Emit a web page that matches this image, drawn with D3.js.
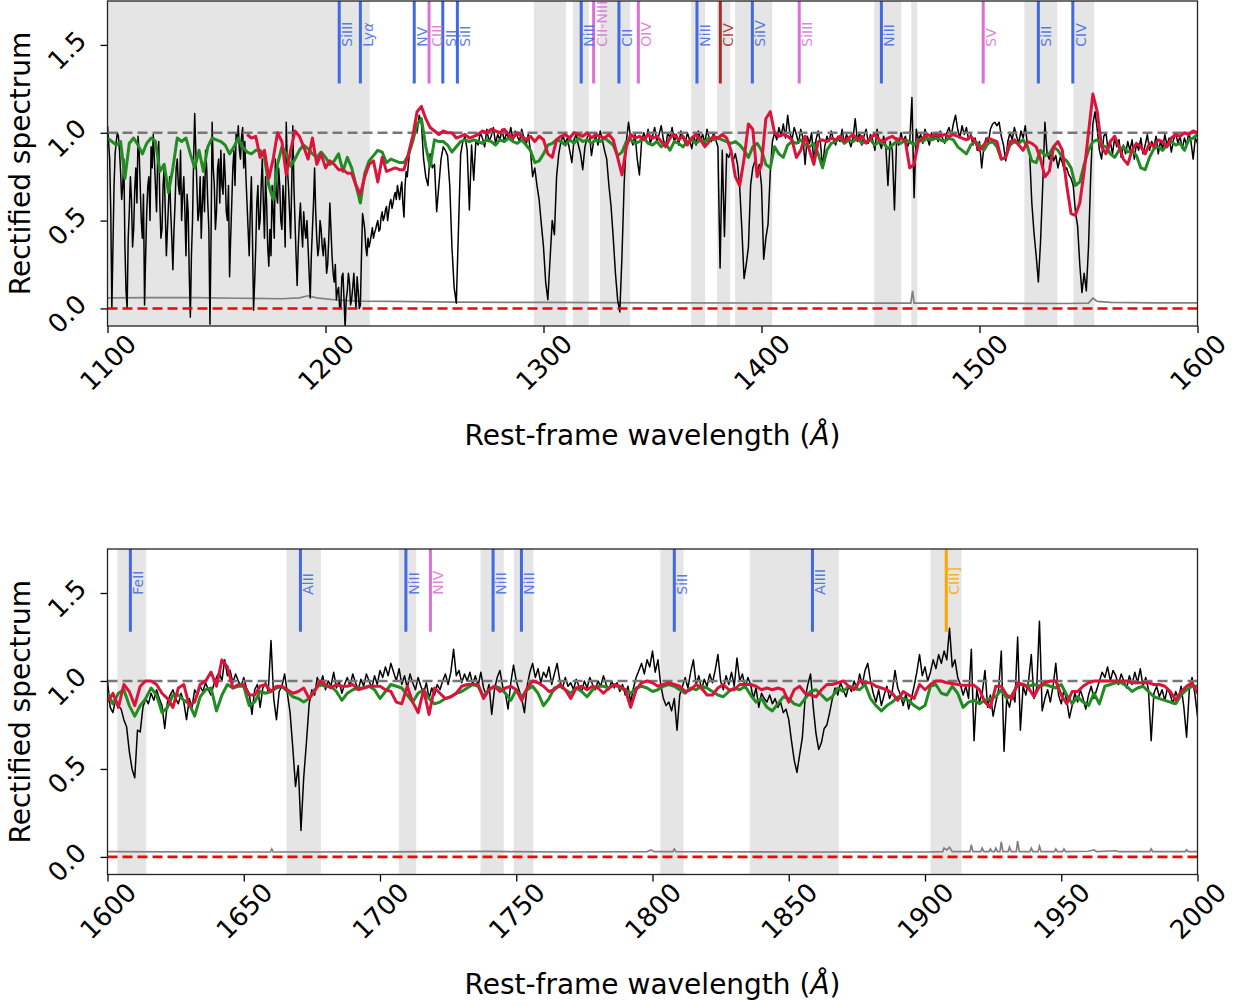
<!DOCTYPE html>
<html>
<head>
<meta charset="utf-8">
<title>Rectified spectrum</title>
<script src="https://d3js.org/d3.v7.min.js"></script>
<style>
  body { margin: 0; background: #fff; }
  svg { display: block; font-family: "DejaVu Sans", sans-serif; }
</style>
</head>
<body>
<svg id="chart" width="1242" height="1006"></svg>
<script>
// ---- data ----
// observed spectrum, 1 A steps
const fluxTopStart = 1100;
const fluxTop = [
  1.04,0.85,0.0,0.7,0.95,0.98,0.78,0.70,0.35,0.0,        // 1100
  0.55,0.62,0.45,0.80,0.98,0.7,0.4,0.02,0.55,0.75,       // 1110
  0.92,0.99,0.7,0.85,0.6,0.45,0.8,0.3,0.6,0.55,          // 1120
  0.22,0.6,0.85,0.65,0.5,0.75,0.3,0.55,-0.05,0.5,        // 1130
  1.11,0.7,0.55,0.4,0.75,0.9,0.6,-0.09,1.06,0.7,         // 1140
  0.55,0.85,0.9,0.65,0.75,0.5,0.18,0.6,0.9,1.0,          // 1150
  1.04,0.85,1.03,0.95,0.6,0.3,0.75,-0.01,0.35,0.7,       // 1160
  0.5,0.85,0.4,0.6,0.24,0.3,0.55,0.85,0.6,0.7,           // 1170
  0.45,0.6,1.06,0.7,0.4,1.04,0.5,0.13,0.5,0.45,          // 1180
  0.55,0.4,0.35,0.06,0.45,0.8,0.4,0.35,0.45,0.3,         // 1190
  0.35,0.25,0.6,0.3,0.15,0.05,0.12,0.0,0.2,-0.11,        // 1200
  0.1,0.15,0.05,0.2,0.0,0.1,0.02,0.54,0.45,0.3,          // 1210
  0.35,0.42,0.4,0.45,0.5,0.45,0.55,0.52,0.58,0.55,       // 1220
  0.62,0.6,0.66,0.7,0.62,0.72,0.52,0.78,0.82,0.92,       // 1230
  0.98,1.05,1.0,1.1,1.05,0.85,0.75,0.7,0.88,0.8,         // 1240
  0.82,0.55,0.7,0.85,0.92,0.9,0.87,0.7,0.35,0.12,        // 1250
  0.03,0.45,0.88,0.95,0.98,0.9,0.56,0.93,0.73,0.96,      // 1260
  0.93,1.0,0.97,0.92,1.02,0.95,0.98,1.03,0.94,0.99,      // 1270
  0.96,1.02,0.95,1.0,0.97,1.03,0.96,1.01,0.98,0.95,      // 1280
  1.02,0.97,0.93,0.99,0.9,0.75,0.8,0.7,0.62,0.48,        // 1290
  0.35,0.15,0.05,0.28,0.5,0.42,0.75,0.88,0.95,0.98,      // 1300
  0.94,0.97,0.9,0.83,0.96,0.99,0.93,0.88,0.79,0.92,      // 1310
  0.97,1.0,0.87,0.95,0.98,0.93,1.01,0.96,0.9,0.85,       // 1320
  0.7,0.58,0.4,0.2,0.05,-0.02,0.3,0.71,0.95,1.06,        // 1330
  0.97,0.93,0.99,0.85,0.76,0.95,1.0,0.96,1.02,0.94,      // 1340
  0.98,1.03,0.95,0.99,1.04,0.96,0.92,1.0,0.97,1.03,      // 1350
  0.95,0.99,0.93,1.01,0.97,0.94,1.0,0.96,0.91,0.98,      // 1360
  0.93,1.01,0.96,0.99,0.94,1.02,0.97,0.95,1.0,0.96,      // 1370
  0.92,0.23,0.9,0.41,0.88,0.86,0.9,0.84,0.88,0.82,       // 1380
  0.69,0.45,0.17,0.25,0.35,0.7,0.8,0.84,0.78,0.82,       // 1390
  0.7,0.28,0.4,0.48,0.77,0.95,1.0,0.96,1.03,0.98,        // 1400
  1.05,0.97,1.1,1.0,0.96,1.03,0.99,0.94,1.02,0.97,       // 1410
  0.82,0.98,0.94,1.0,0.83,0.96,1.01,0.95,0.8,0.92,       // 1420
  0.98,0.95,1.01,0.96,0.93,0.98,0.95,1.02,0.94,0.99,     // 1430
  0.96,0.92,0.97,1.08,0.95,1.0,0.93,0.98,1.02,0.94,      // 1440
  0.99,0.96,0.9,1.02,0.95,0.91,0.98,0.93,0.7,0.95,       // 1450
  0.9,0.56,0.97,0.93,1.0,0.95,0.98,0.92,0.95,1.2,        // 1460
  0.63,1.02,0.96,0.99,0.94,1.02,0.97,0.93,1.0,0.96,      // 1470
  0.99,0.95,1.01,0.97,0.94,1.0,1.03,0.98,1.05,1.1,       // 1480
  1.02,0.97,1.04,0.99,1.03,0.96,0.99,0.93,0.97,0.9,      // 1490
  0.95,0.8,0.92,0.97,0.94,1.02,1.05,1.06,1.04,1.06,      // 1500
  0.98,0.93,0.84,0.95,1.0,0.96,1.03,0.98,0.94,1.01,      // 1510
  0.97,1.04,0.93,0.88,0.6,0.43,0.3,0.15,0.38,0.7,        // 1520
  1.06,0.88,0.85,0.9,0.84,0.87,0.8,0.86,0.83,0.78,       // 1530
  0.8,0.76,0.74,0.7,0.55,0.47,0.25,0.09,0.2,0.1,         // 1540
  0.35,0.75,1.05,1.12,1.02,0.9,0.85,0.98,1.0,0.9,        // 1550
  0.95,0.88,0.97,0.92,0.96,0.86,0.93,0.88,0.95,0.9,      // 1560
  0.96,0.85,0.94,0.9,0.97,0.88,0.93,0.99,0.9,0.95,       // 1570
  0.92,0.98,0.88,0.95,0.91,0.99,0.93,0.97,0.89,0.96,     // 1580
  1.0,0.94,0.98,0.91,0.97,0.93,1.0,0.95,0.85,0.97,       // 1590
  0.94                                                    // 1600
];
// extra half-step samples in the dense forest region (1100.5 ... 1239.5)
const fluxForestStart = 1100.5;
const fluxForest = [
  0.95,0.55,0.35,0.88,1.0,0.9,0.62,0.85,0.1,0.4,         // 1100.5
  0.75,0.35,0.68,0.6,0.9,0.5,0.65,0.3,0.7,0.5,           // 1110.5
  0.8,0.85,0.55,0.95,0.4,0.7,0.55,0.45,0.75,0.4,         // 1120.5
  0.45,0.8,0.7,0.9,0.65,0.55,0.65,0.2,0.3,0.85,          // 1130.5
  0.9,0.5,0.75,0.6,0.55,0.8,0.45,0.4,0.8,0.45,           // 1140.5
  0.8,0.6,0.7,0.88,0.55,0.7,0.4,0.8,0.7,0.95,            // 1150.5
  0.9,0.98,0.8,0.75,0.45,0.55,0.4,0.15,0.6,0.45,         // 1160.5
  0.7,0.6,0.75,0.35,0.45,0.7,0.4,0.65,0.8,0.5,           // 1170.5
  0.7,0.35,0.8,0.55,0.7,0.7,0.3,0.35,0.6,0.35,           // 1180.5
  0.45,0.5,0.2,0.3,0.6,0.55,0.3,0.5,0.35,0.4,            // 1190.5
  0.2,0.4,0.45,0.2,0.25,0.1,0.0,0.18,0.05,0.05,          // 1200.5
  0.2,0.02,0.12,0.08,0.18,0.0,0.3,0.5,0.35,0.4,          // 1210.5
  0.38,0.46,0.43,0.48,0.44,0.52,0.5,0.56,0.5,0.6,        // 1220.5
  0.57,0.64,0.62,0.66,0.68,0.6,0.7,0.75,0.88,0.95        // 1230.5
];
const fluxBotStart = 1600;
const fluxBot = [
  1.0,0.85,0.82,0.9,0.86,0.84,0.78,0.74,0.6,0.5,         // 1600
  0.45,0.72,0.71,0.85,0.9,0.87,0.93,0.89,0.95,0.9,       // 1610
  0.86,0.73,0.88,0.92,0.95,0.9,0.87,0.93,0.88,0.78,      // 1620
  0.9,0.85,0.95,0.92,0.97,0.94,0.99,0.95,0.92,0.98,      // 1630
  1.02,1.05,1.0,1.12,1.03,1.06,0.99,1.04,1.0,0.97,       // 1640
  1.02,0.96,0.93,0.81,0.95,0.98,0.85,0.96,0.99,0.94,     // 1650
  1.23,0.9,0.78,0.94,0.97,1.04,0.93,0.82,0.62,0.4,       // 1660
  0.52,0.15,0.45,0.65,0.87,0.95,0.92,1.02,0.97,1.03,     // 1670
  0.95,1.0,0.97,1.05,0.96,1.0,0.93,0.98,1.02,0.97,       // 1680
  1.04,0.99,0.95,1.01,0.97,1.04,1.0,0.96,1.03,0.98,      // 1690
  1.06,1.02,1.08,1.03,1.1,1.05,1.0,1.07,0.98,1.03,       // 1700
  0.96,1.04,0.99,0.95,1.02,0.97,0.93,0.99,0.9,0.96,      // 1710
  0.92,0.98,0.95,1.0,1.04,0.98,1.05,1.18,1.03,1.06,      // 1720
  0.99,1.04,1.0,1.05,0.98,1.03,0.97,1.05,0.96,0.92,      // 1730
  0.98,0.81,0.95,1.02,1.06,0.97,0.93,0.84,0.99,1.09,     // 1740
  1.0,0.95,0.9,0.82,0.97,1.05,1.1,1.02,1.07,0.99,        // 1750
  1.05,1.02,1.08,0.98,1.04,1.1,1.0,0.96,1.02,0.97,       // 1760
  0.99,0.95,1.01,0.97,0.94,1.0,0.96,1.02,0.98,0.95,      // 1770
  1.0,0.97,1.03,0.98,0.95,1.0,0.96,0.99,0.94,0.98,       // 1780
  0.92,0.97,0.88,0.96,1.02,1.06,1.1,1.04,1.12,1.08,      // 1790
  1.17,1.05,1.12,0.98,0.9,0.86,0.88,0.83,0.9,0.72,       // 1800
  0.92,0.97,1.02,0.96,1.05,1.12,0.98,1.03,0.95,1.01,     // 1810
  0.97,1.04,0.99,1.06,1.15,1.0,0.95,1.03,0.98,1.05,      // 1820
  0.97,1.13,1.0,1.04,0.96,1.02,0.98,0.9,0.96,0.85,       // 1830
  0.93,0.9,0.88,0.92,0.87,0.9,0.85,0.88,0.82,0.84,       // 1840
  0.78,0.66,0.55,0.48,0.58,0.68,0.9,0.98,1.04,0.85,      // 1850
  0.7,0.61,0.65,0.73,0.75,0.82,0.9,0.96,0.92,0.99,       // 1860
  0.95,0.91,0.97,0.94,1.0,0.95,1.04,0.98,1.06,1.1,       // 1870
  1.0,0.93,0.88,0.95,0.86,0.92,0.97,0.9,0.94,1.06,       // 1880
  0.96,0.92,0.86,0.93,0.84,0.9,0.97,1.05,1.15,1.03,      // 1890
  1.08,1.0,1.05,1.12,1.07,1.15,1.1,1.17,1.12,1.3,        // 1900
  1.08,1.12,1.02,0.98,0.92,0.97,0.9,1.18,0.66,0.95,      // 1910
  0.88,0.93,1.06,0.85,0.92,0.8,0.88,0.95,1.17,0.6,       // 1920
  0.9,0.85,0.93,0.88,1.25,0.72,0.97,0.92,1.0,1.15,       // 1930
  0.9,0.96,1.34,0.83,0.9,0.95,0.88,0.97,1.1,0.92,        // 1940
  0.87,0.95,0.89,0.79,0.86,0.93,0.88,0.95,0.9,0.84,      // 1950
  0.92,0.97,0.9,0.95,1.0,1.05,1.02,1.08,1.0,1.06,        // 1960
  1.03,0.98,1.04,1.0,0.96,1.03,0.98,1.05,0.99,1.07,      // 1970
  0.97,1.02,0.95,0.66,0.93,0.97,0.91,0.95,0.89,0.96,     // 1980
  0.92,0.87,0.94,0.9,0.97,0.85,0.68,0.95,1.02,0.93,      // 1990
  0.8                                                     // 2000
];

// model 1 (green) and model 2 (red), 2 A steps
const greenTopStart = 1100;
const greenTop = [
  0.97,0.95,0.93,0.95,0.74,0.94,0.97,0.93,0.88,0.94,     // 1100
  0.97,0.95,0.78,0.82,0.66,0.8,0.97,0.95,0.97,0.88,      // 1120
  0.8,0.9,0.78,0.92,0.97,0.96,0.95,0.93,0.88,0.92,       // 1140
  0.97,0.92,0.89,0.88,0.9,0.9,0.86,0.7,0.62,0.82,        // 1160
  0.92,0.88,0.81,0.85,0.9,0.93,0.91,0.88,0.86,0.89,      // 1180
  0.86,0.82,0.84,0.88,0.78,0.86,0.8,0.7,0.6,0.77,        // 1200
  0.84,0.87,0.9,0.89,0.83,0.85,0.84,0.83,0.83,0.87,      // 1220
  0.95,1.05,1.08,0.92,0.81,0.96,0.95,0.95,0.93,0.89,     // 1240
  0.92,0.95,0.96,0.95,0.96,0.95,0.94,0.96,0.95,0.93,     // 1260
  0.96,0.95,0.97,0.95,0.94,0.96,0.93,0.9,0.83,0.84,      // 1280
  0.88,0.93,0.94,0.96,0.95,0.93,0.96,0.94,0.97,0.95,     // 1300
  0.96,0.94,0.96,0.95,0.97,0.95,0.93,0.87,0.89,0.95,     // 1320
  0.96,0.94,0.95,0.97,0.94,0.93,0.95,0.92,0.94,0.9,      // 1340
  0.95,0.94,0.92,0.95,0.96,0.94,0.96,0.95,0.97,0.96,     // 1360
  0.97,0.96,0.95,0.94,0.95,0.93,0.9,0.86,0.92,0.94,      // 1380
  0.9,0.82,0.8,0.92,0.88,0.86,0.93,0.95,0.94,0.96,       // 1400
  0.93,0.92,0.94,0.88,0.8,0.9,0.94,0.95,0.97,0.94,       // 1420
  0.96,0.95,0.97,0.94,0.95,0.96,0.93,0.95,0.94,0.91,     // 1440
  0.93,0.95,0.94,0.96,0.95,0.93,0.96,0.95,0.97,0.96,     // 1460
  0.97,0.96,0.95,0.97,0.96,0.92,0.9,0.88,0.93,0.95,      // 1480
  0.93,0.9,0.94,0.95,0.92,0.85,0.86,0.93,0.95,0.94,      // 1500
  0.96,0.92,0.84,0.83,0.9,0.87,0.88,0.92,0.9,0.86,       // 1520
  0.84,0.8,0.7,0.72,0.82,0.9,0.95,0.96,0.93,0.92,        // 1540
  0.88,0.86,0.9,0.92,0.89,0.9,0.87,0.8,0.79,0.86,        // 1560
  0.91,0.92,0.9,0.93,0.95,0.93,0.94,0.9,0.96,0.97,       // 1580
  0.99                                                    // 1600
];
const redTopStart = 1164;
const redTop = [
  0.99,0.97,0.98,0.86,0.9,0.74,0.85,1.0,0.95,0.76,       // 1164
  0.9,1.01,0.98,0.92,0.85,0.97,0.82,0.88,0.8,0.84,       // 1184
  0.82,0.79,0.79,0.77,0.77,0.7,0.65,0.75,0.82,0.84,      // 1204
  0.72,0.86,0.78,0.79,0.8,0.79,0.79,0.88,0.98,1.12,      // 1224
  1.15,1.08,1.03,1.01,0.99,1.01,1.0,1.0,0.97,0.98,       // 1244
  0.99,0.97,0.98,0.99,1.01,1.0,1.02,1.01,1.0,1.02,       // 1264
  0.99,0.97,1.0,0.98,0.96,0.98,0.95,0.98,0.96,0.88,      // 1284
  0.86,0.96,0.98,0.99,0.97,1.0,0.99,0.98,1.0,0.97,       // 1304
  0.99,0.98,0.97,0.99,0.96,0.86,0.76,0.92,0.99,0.97,     // 1324
  0.98,0.96,0.99,0.97,0.98,0.95,0.92,0.97,0.99,0.96,     // 1344
  0.98,0.93,0.97,0.99,0.96,0.92,0.95,0.98,0.97,0.99,     // 1364
  0.97,0.9,0.75,0.7,0.85,1.05,1.02,0.75,0.82,1.08,       // 1384
  1.12,1.0,0.98,0.99,0.98,0.96,0.86,0.9,0.98,0.9,        // 1404
  0.82,0.95,0.96,0.95,0.97,0.96,0.98,0.95,0.97,0.99,     // 1424
  0.96,0.98,0.94,0.97,0.99,0.96,0.95,0.97,0.98,0.96,     // 1444
  0.97,0.95,0.8,0.82,0.95,0.97,0.99,0.98,0.99,0.98,      // 1464
  0.99,0.98,0.99,0.98,0.97,0.96,0.98,0.95,0.9,0.93,      // 1484
  0.97,0.96,0.95,0.85,0.86,0.95,0.96,0.93,0.9,0.95,      // 1504
  0.94,0.92,0.85,0.75,0.78,0.92,0.95,0.9,0.7,0.54,       // 1524
  0.53,0.6,0.78,1.0,1.22,1.12,0.92,0.88,0.95,0.98,       // 1544
  0.92,0.85,0.82,0.9,0.94,0.92,0.88,0.94,0.92,0.96,      // 1564
  0.95,0.92,0.97,0.99,0.98,1.0,0.99,1.01,1.0             // 1584
];
const greenBotStart = 1600;
const greenBot = [
  0.93,0.87,0.93,0.95,0.86,0.8,0.86,0.9,0.96,0.92,       // 1600
  0.82,0.85,0.92,0.92,0.89,0.87,0.8,0.91,0.95,0.96,      // 1620
  0.83,0.92,0.98,0.96,0.97,0.97,0.86,0.88,0.94,0.93,     // 1640
  0.94,0.96,0.97,0.94,0.91,0.9,0.88,0.9,0.95,0.98,       // 1660
  0.97,0.97,0.94,0.89,0.93,0.95,0.96,0.96,0.97,0.95,     // 1680
  0.9,0.94,0.98,0.97,0.96,0.92,0.88,0.93,0.95,0.9,       // 1700
  0.87,0.88,0.9,0.91,0.93,0.94,0.96,0.98,0.97,0.91,      // 1720
  0.95,0.97,0.96,0.93,0.89,0.95,0.91,0.95,0.97,0.93,     // 1740
  0.86,0.9,0.96,0.97,0.95,0.93,0.96,0.94,0.91,0.95,      // 1760
  0.97,0.97,0.96,0.98,0.96,0.95,0.93,0.96,0.97,0.96,     // 1780
  0.94,0.95,0.97,0.98,0.97,0.95,0.93,0.96,0.95,0.97,     // 1800
  0.96,0.94,0.92,0.91,0.94,0.96,0.95,0.97,0.92,0.88,     // 1820
  0.9,0.85,0.83,0.87,0.91,0.9,0.87,0.86,0.9,0.94,        // 1840
  0.95,0.92,0.89,0.91,0.96,0.94,0.97,0.96,0.95,0.98,     // 1860
  0.9,0.86,0.83,0.86,0.88,0.91,0.9,0.89,0.86,0.84,       // 1880
  0.86,0.97,0.98,0.93,0.92,0.97,0.93,0.85,0.88,0.89,     // 1900
  0.87,0.89,0.9,0.91,0.95,0.9,0.92,0.98,0.98,0.97,       // 1920
  0.98,0.97,0.98,0.97,0.96,0.98,0.92,0.87,0.91,0.88,     // 1940
  0.86,0.93,0.87,0.97,0.98,0.99,0.99,0.97,0.94,0.96,     // 1960
  0.97,0.94,0.91,0.9,0.89,0.88,0.87,0.92,0.95,0.97,      // 1980
  0.97                                                    // 2000
];
const redBotStart = 1600;
const redBot = [
  0.88,0.93,0.85,0.98,0.94,0.86,0.97,1.0,1.0,0.98,       // 1600
  0.93,0.9,0.85,0.96,0.98,0.86,0.88,0.98,1.0,1.05,       // 1620
  0.97,1.12,1.08,0.96,0.98,0.98,0.92,0.92,0.97,0.98,     // 1640
  0.94,0.97,0.97,0.95,0.93,0.94,0.96,0.9,0.94,1.0,       // 1660
  0.98,0.96,0.98,0.97,0.97,0.98,0.95,0.96,0.97,0.97,     // 1680
  0.97,0.95,0.94,0.88,0.87,0.97,0.88,0.82,0.95,0.81,     // 1700
  0.96,0.93,0.9,0.91,0.93,0.97,0.98,0.98,0.98,0.9,       // 1720
  0.95,0.97,0.94,0.96,0.97,0.95,0.89,0.96,1.0,0.99,      // 1740
  0.97,0.94,0.95,0.98,0.95,0.9,0.96,0.97,0.95,0.97,      // 1760
  0.96,0.93,0.96,0.98,0.97,0.95,0.85,0.95,0.99,1.0,      // 1780
  0.99,0.97,0.98,0.99,0.98,0.97,0.94,0.95,0.98,0.96,     // 1800
  0.92,0.92,0.96,0.98,0.95,0.95,0.98,0.98,0.98,0.97,     // 1820
  0.95,0.96,0.95,0.96,0.95,0.88,0.95,0.97,0.93,0.92,     // 1840
  0.91,0.95,0.98,0.98,0.99,1.0,0.97,0.95,1.0,0.99,       // 1860
  0.99,0.97,0.96,0.95,0.93,0.89,0.94,0.92,0.9,0.98,      // 1880
  0.95,0.98,1.0,1.0,0.99,0.985,0.98,0.975,0.975,0.975,   // 1900
  0.95,0.88,0.85,0.97,0.97,0.92,0.9,0.99,0.98,0.96,      // 1920
  0.91,0.97,0.99,1.0,1.0,0.92,0.87,0.94,0.94,0.97,       // 1940
  0.99,1.0,1.0,1.0,1.0,1.0,1.0,1.0,0.99,0.99,            // 1960
  0.99,0.99,0.98,0.98,0.97,0.94,0.89,0.94,0.97,0.99,     // 1980
  0.93                                                    // 2000
];

// error spectrum [wavelength, value]
const errTop = [
  [1100,0.06],[1120,0.062],[1140,0.062],[1160,0.058],[1180,0.055],[1188,0.06],[1192,0.072],
  [1196,0.06],[1205,0.048],[1215,0.042],[1230,0.04],[1260,0.036],[1300,0.034],[1350,0.032],
  [1400,0.031],[1450,0.03],[1468.5,0.03],[1469.3,0.1],[1470,0.03],[1500,0.03],[1540,0.028],
  [1550,0.03],[1552,0.058],[1554,0.04],[1560,0.035],[1580,0.032],[1600,0.032]
];
const errBot = [
  [1600,0.03],[1640,0.028],[1659.8,0.028],[1660.3,0.045],[1660.8,0.028],[1700,0.029],
  [1740,0.031],[1770,0.028],[1798,0.03],[1799.5,0.04],[1800.5,0.03],[1807.5,0.03],[1808,0.045],
  [1808.6,0.03],[1850,0.028],[1900,0.028],[1906.5,0.03],[1907,0.05],[1908,0.04],[1909,0.055],
  [1910,0.03],[1916.5,0.03],[1917,0.07],[1917.6,0.03],[1920.5,0.03],[1921,0.05],[1921.6,0.03],
  [1923.5,0.03],[1924,0.045],[1924.6,0.03],[1925.5,0.03],[1926,0.05],[1926.6,0.03],[1927.5,0.03],
  [1928,0.085],[1928.6,0.03],[1930.5,0.03],[1931,0.055],[1931.6,0.03],[1933.5,0.03],[1934,0.09],
  [1934.6,0.03],[1938.5,0.03],[1939,0.05],[1939.6,0.03],[1941.5,0.03],[1942,0.06],[1942.6,0.03],
  [1947.5,0.03],[1948,0.045],[1948.6,0.03],[1950.5,0.03],[1951,0.045],[1951.6,0.03],
  [1960,0.032],[1962,0.04],[1963,0.03],[1970,0.035],[1971,0.03],[1982.5,0.03],[1983,0.045],
  [1983.6,0.03],[1995.5,0.03],[1996,0.04],[1996.6,0.03],[2000,0.03]
];

// masked wavelength ranges (grey bands)
const masksTop = [
  [1100,1220.3],[1295.6,1310.3],[1313.5,1320.8],[1325.9,1339.7],[1367.7,1374.1],
  [1379.6,1385.6],[1387.9,1404.9],[1451.7,1464.1],[1468.7,1471.4],[1520.6,1535.7],[1543.1,1552.7]
];
const masksBot = [
  [1603.6,1614.2],[1665.7,1678.3],[1706.9,1713.3],[1736.9,1745.4],[1749.1,1756.3],
  [1802.9,1811.4],[1835.7,1868.4],[1902,1913.4]
];

// line identifications
const linesTop = [
  {wl:1206.3, name:"SiIII", c:"royalblue"}, {wl:1216.0, name:"Lyα", c:"royalblue"},
  {wl:1240.7, name:"NV", c:"royalblue"}, {wl:1247.5, name:"CIII", c:"orchid"},
  {wl:1253.8, name:"SII", c:"royalblue"}, {wl:1260.5, name:"SiII", c:"royalblue"},
  {wl:1317.3, name:"NiII", c:"royalblue"}, {wl:1323.0, name:"CII-NIII", c:"orchid"},
  {wl:1334.6, name:"CII", c:"royalblue"}, {wl:1343.5, name:"OIV", c:"orchid"},
  {wl:1370.4, name:"NiII", c:"royalblue"}, {wl:1381.1, name:"CIV", c:"brown"},
  {wl:1395.8, name:"SiIV", c:"royalblue"}, {wl:1417.3, name:"SiIII", c:"orchid"},
  {wl:1455.0, name:"NiII", c:"royalblue"}, {wl:1501.7, name:"SV", c:"orchid"},
  {wl:1527.0, name:"SiII", c:"royalblue"}, {wl:1542.8, name:"CIV", c:"royalblue"}
];
const linesBot = [
  {wl:1608.4, name:"FeII", c:"royalblue"}, {wl:1670.8, name:"AlII", c:"royalblue"},
  {wl:1709.5, name:"NiII", c:"royalblue"}, {wl:1718.5, name:"NIV", c:"orchid"},
  {wl:1741.5, name:"NiII", c:"royalblue"}, {wl:1751.9, name:"NiII", c:"royalblue"},
  {wl:1808.0, name:"SiII", c:"royalblue"}, {wl:1858.7, name:"AlIII", c:"royalblue"},
  {wl:1907.8, name:"CIII]", c:"orange"}
];

const xTicksTop = [1100, 1200, 1300, 1400, 1500, 1600];
const xTicksBot = [1600, 1650, 1700, 1750, 1800, 1850, 1900, 1950, 2000];
const yTicks = [0.0, 0.5, 1.0, 1.5];

// ---- drawing ----
const svg = d3.select("#chart");
const left = 107.5, right = 1197.5;

function grid(start, step, vals) {
  return vals.map((v, i) => [start + i * step, v]);
}

const fluxTopAll = grid(fluxTopStart, 1, fluxTop)
  .concat(grid(fluxForestStart, 1, fluxForest))
  .sort((a, b) => a[0] - b[0]);

const panels = [
  {id: "top", top: 1, bottom: 326, dom: [1100, 1600], ticks: xTicksTop,
   flux: fluxTopAll, green: grid(greenTopStart, 2, greenTop),
   red: grid(redTopStart, 2, redTop), err: errTop, masks: masksTop, lines: linesTop},
  {id: "bot", top: 549, bottom: 874.5, dom: [1600, 2000], ticks: xTicksBot,
   flux: grid(fluxBotStart, 1, fluxBot), green: grid(greenBotStart, 2, greenBot),
   red: grid(redBotStart, 2, redBot), err: errBot, masks: masksBot, lines: linesBot}
];

panels.forEach(p => {
  const x = d3.scaleLinear().domain(p.dom).range([left, right]);
  const y = d3.scaleLinear().domain([-0.1, 1.75]).range([p.bottom, p.top]);

  svg.append("clipPath").attr("id", "clip-" + p.id)
    .append("rect").attr("x", left).attr("y", p.top)
    .attr("width", right - left).attr("height", p.bottom - p.top);

  const g = svg.append("g").attr("clip-path", `url(#clip-${p.id})`);

  // masked regions
  g.selectAll(".mask").data(p.masks).enter().append("rect")
    .attr("x", d => x(d[0])).attr("width", d => x(d[1]) - x(d[0]))
    .attr("y", p.top).attr("height", p.bottom - p.top)
    .attr("fill", "#e5e5e5");

  const line = d3.line().x(d => x(d[0])).y(d => y(d[1]));

  // error
  g.append("path").datum(p.err).attr("d", line)
    .attr("fill", "none").attr("stroke", "gray").attr("stroke-width", 1.7);

  // observed
  g.append("path").datum(p.flux).attr("d", line)
    .attr("fill", "none").attr("stroke", "black").attr("stroke-width", 1.5)
    .attr("stroke-linejoin", "round");

  // reference levels
  g.append("line").attr("x1", left).attr("x2", right)
    .attr("y1", y(1)).attr("y2", y(1))
    .attr("stroke", "#777").attr("stroke-width", 2.6).attr("stroke-dasharray", "10,5");
  g.append("line").attr("x1", left).attr("x2", right)
    .attr("y1", y(0)).attr("y2", y(0))
    .attr("stroke", "red").attr("stroke-width", 2.6).attr("stroke-dasharray", "10,5");

  // models
  g.append("path").datum(p.green).attr("d", line)
    .attr("fill", "none").attr("stroke", "forestgreen").attr("stroke-width", 3)
    .attr("stroke-linejoin", "round");
  g.append("path").datum(p.red).attr("d", line)
    .attr("fill", "none").attr("stroke", "crimson").attr("stroke-width", 3)
    .attr("stroke-linejoin", "round");

  // line ids
  g.selectAll(".lid").data(p.lines).enter().append("line")
    .attr("x1", d => x(d.wl)).attr("x2", d => x(d.wl))
    .attr("y1", y(1.28)).attr("y2", p.top)
    .attr("stroke", d => d.c).attr("stroke-width", 3);
  const lab = svg.append("g").selectAll(".lbl").data(p.lines).enter().append("text")
    .attr("transform", d => `translate(${x(d.wl) + 13},${y(1.49)}) rotate(-90)`)
    .attr("fill", d => d.c).attr("opacity", 0.85)
    .attr("font-size", 14);
  lab.each(function(d) {
    const t = d3.select(this);
    if (d.name === "Lyα") {
      t.append("tspan").text("Ly");
      t.append("tspan").attr("font-style", "italic").text("α");
    } else {
      t.text(d.name);
    }
  });

  // axes
  const xa = svg.append("g").attr("transform", `translate(0,${p.bottom})`)
    .call(d3.axisBottom(x).tickValues(p.ticks).tickFormat(d3.format("d"))
      .tickSize(7).tickSizeOuter(0));
  xa.select(".domain").remove();
  xa.selectAll(".tick line").attr("stroke-width", 1.3);
  xa.selectAll(".tick text")
    .attr("y", 0).attr("dy", "0.35em")
    .attr("transform", "translate(0,36.5) rotate(-45)")
    .attr("text-anchor", "middle")
    .attr("font-size", 26).attr("font-family", "DejaVu Sans").attr("fill", "#000");

  const ya = svg.append("g").attr("transform", `translate(${left},0)`)
    .call(d3.axisLeft(y).tickValues(yTicks).tickFormat(d3.format(".1f"))
      .tickSize(7).tickSizeOuter(0));
  ya.select(".domain").remove();
  ya.selectAll(".tick line").attr("stroke-width", 1.3);
  ya.selectAll(".tick text")
    .attr("x", 0).attr("dy", "0.35em")
    .attr("transform", "translate(-40.5,5) rotate(-45)")
    .attr("text-anchor", "middle")
    .attr("font-size", 26).attr("font-family", "DejaVu Sans").attr("fill", "#000");

  // frame
  svg.append("rect").attr("x", left).attr("y", p.top)
    .attr("width", right - left).attr("height", p.bottom - p.top)
    .attr("fill", "none").attr("stroke", "#222").attr("stroke-width", 1.3);

  // axis labels
  const xl = svg.append("text")
    .attr("x", (left + right) / 2).attr("y", p.bottom + 119)
    .attr("text-anchor", "middle").attr("font-size", 28);
  xl.append("tspan").text("Rest-frame wavelength (");
  xl.append("tspan").attr("font-style", "italic").text("Å");
  xl.append("tspan").text(")");

  svg.append("text")
    .attr("transform", `translate(30,${(p.top + p.bottom) / 2}) rotate(-90)`)
    .attr("text-anchor", "middle").attr("font-size", 28)
    .text("Rectified spectrum");
});
</script>
</body>
</html>
